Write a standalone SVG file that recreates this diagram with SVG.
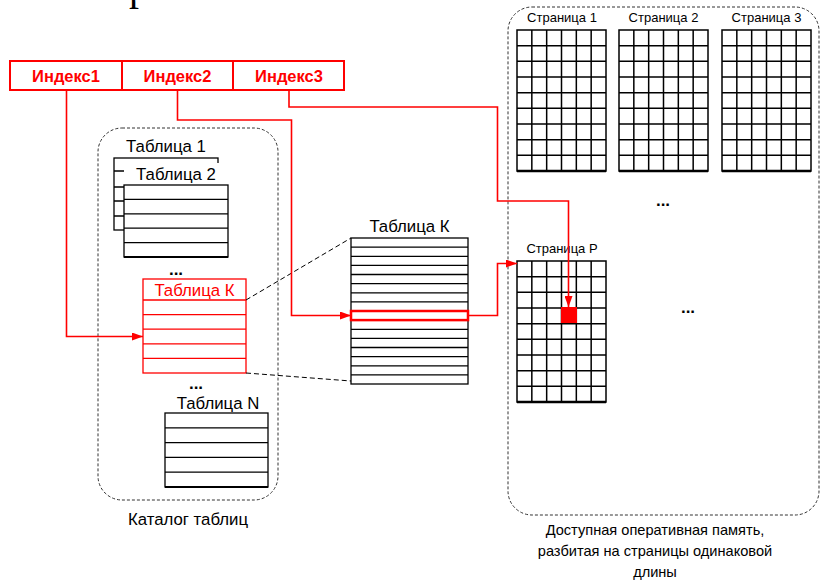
<svg xmlns="http://www.w3.org/2000/svg" xmlns:xlink="http://www.w3.org/1999/xlink" width="820" height="580" viewBox="0 0 820 580">
<style>
  text { font-family: "Liberation Sans", Arial, sans-serif; fill: #000; }
  .lbl { font-size: 16.8px; text-anchor: middle; }
  .blbl { font-size: 14.6px; text-anchor: middle; }
  .plbl { font-size: 13px; text-anchor: middle; }
  .idx { font-size: 16.5px; font-weight: bold; fill: #ff0000; text-anchor: middle; }
  .redt { fill: #ff0000; }
  .dots { font-size: 17px; font-weight: bold; text-anchor: middle; }
  .tbl { fill: #fff; stroke: #000; stroke-width: 1.3; }
  .ln { stroke: #000; stroke-width: 1.3; fill: none; }
  .rtbl { fill: #fff; stroke: #ff0000; stroke-width: 1.3; }
  .rln { stroke: #ff0000; stroke-width: 1.3; fill: none; }
  .frame { fill: none; stroke: #333; stroke-width: 1; stroke-dasharray: 3 2; }
  .conn { fill: none; stroke: #ff0000; stroke-width: 1.6; }
  .dash { fill: none; stroke: #000; stroke-width: 1; stroke-dasharray: 5 3; }
  .grid { fill: #fff; stroke: #000; stroke-width: 1.5; }
</style>
<defs>
  <marker id="ar" markerUnits="userSpaceOnUse" markerWidth="12" markerHeight="8" refX="11" refY="4" orient="auto">
    <path d="M0,0 L11,4 L0,8 z" fill="#ff0000"/>
  </marker>
  <g id="page">
    <rect class="grid" x="0" y="0" width="89" height="141"/>
    <path class="ln" style="stroke-width:1.5" d="M14.83,0V141 M29.67,0V141 M44.5,0V141 M59.33,0V141 M74.17,0V141 M0,15.67H89 M0,31.33H89 M0,47H89 M0,62.67H89 M0,78.33H89 M0,94H89 M0,109.67H89 M0,125.33H89"/>
    <path class="ln" style="stroke-width:2.5" d="M0,141H89"/>
  </g>
</defs>

<text x="129" y="0" style="font-family:'Liberation Serif', serif; font-size:40px">р</text>

<g id="index-bar">
  <rect x="10" y="61" width="334" height="29" fill="#fff" stroke="#ff0000" stroke-width="2"/>
  <path d="M122,61V90 M233,61V90" stroke="#ff0000" stroke-width="2"/>
  <text class="idx" x="66" y="81.5">Индекс1</text>
  <text class="idx" x="177.5" y="81.5">Индекс2</text>
  <text class="idx" x="289" y="81.5">Индекс3</text>
</g>

<g id="catalog">
  <rect class="frame" x="98" y="128" width="180" height="372" rx="24"/>
  <text class="lbl" x="188" y="525">Каталог таблиц</text>
</g>

<g id="table1">
  <text class="lbl" x="166" y="152">Таблица 1</text>
  <rect class="tbl" x="114" y="158" width="104" height="72"/>
  <path class="ln" d="M114,171H218 M114,187H218 M114,201H218 M114,216H218"/>
</g>

<g id="table2">
  <rect x="124" y="163" width="104" height="95" fill="#fff"/>
  <text class="lbl" x="176" y="179.5">Таблица 2</text>
  <rect class="tbl" x="124" y="185" width="104" height="72"/>
  <path class="ln" d="M124,199.4H228 M124,213.8H228 M124,228.2H228 M124,242.6H228"/>
  <path class="ln" style="stroke-width:2" d="M124,257H228"/>
</g>

<text class="dots" x="176" y="275">...</text>

<g id="tableK">
  <rect class="rtbl" x="143" y="279" width="103" height="94"/>
  <path class="rln" d="M143,300H246 M143,314.6H246 M143,329.2H246 M143,343.8H246 M143,358.4H246"/>
  <text class="lbl redt" x="194.5" y="295.5">Таблица К</text>
</g>

<text class="dots" x="196" y="389">...</text>

<g id="tableN">
  <text class="lbl" x="218" y="409">Таблица N</text>
  <rect class="tbl" x="165" y="413" width="103" height="74"/>
  <path class="ln" d="M165,427.8H268 M165,442.6H268 M165,457.4H268 M165,472.2H268"/>
  <path class="ln" style="stroke-width:2" d="M165,487H268"/>
</g>

<g id="tableK-detail">
  <text class="lbl" x="409.5" y="232">Таблица К</text>
  <rect class="tbl" x="351" y="238" width="117" height="146"/>
  <path class="ln" d="M351,247.1H468 M351,256.3H468 M351,265.4H468 M351,274.5H468 M351,283.6H468 M351,292.8H468 M351,301.9H468 M351,320.1H468 M351,329.3H468 M351,338.4H468 M351,347.5H468 M351,356.6H468 M351,365.8H468 M351,374.9H468"/>
  <rect x="351" y="311" width="117" height="9.1" fill="none" stroke="#ff0000" stroke-width="2.5"/>
</g>

<g id="ram">
  <rect class="frame" x="508" y="7" width="311" height="508" rx="24"/>
  <text class="blbl" x="655" y="535">Доступная оперативная память,</text>
  <text class="blbl" x="655" y="556">разбитая на страницы одинаковой</text>
  <text class="blbl" x="655" y="577">длины</text>
</g>

<g id="page1">
  <text class="plbl" x="562" y="22">Страница 1</text>
  <use xlink:href="#page" x="517" y="30"/>
</g>
<g id="page2">
  <text class="plbl" x="663.5" y="22">Страница 2</text>
  <use xlink:href="#page" x="619" y="30"/>
</g>
<g id="page3">
  <text class="plbl" x="766.5" y="22">Страница 3</text>
  <use xlink:href="#page" x="722" y="30"/>
</g>
<text class="dots" x="663" y="206">...</text>
<text class="dots" x="688" y="313">...</text>

<g id="pageP">
  <text class="plbl" x="562" y="253">Страница P</text>
  <use xlink:href="#page" x="517" y="261"/>
  <rect x="561" y="307" width="16" height="16" fill="#ff0000"/>
</g>

<g id="connectors">
  <path class="dash" d="M246,300L351,238"/>
  <path class="dash" d="M246,373L351,381"/>
  <path class="conn" d="M66.5,90V336.5H143" marker-end="url(#ar)"/>
  <path class="conn" d="M177.5,90V120H291.5V315.5H351" marker-end="url(#ar)"/>
  <path class="conn" d="M289,90V107H497.5V201H568.5V307" marker-end="url(#ar)"/>
  <path class="conn" d="M468,315.5H497.5V263.5H517" marker-end="url(#ar)"/>
</g>
</svg>
